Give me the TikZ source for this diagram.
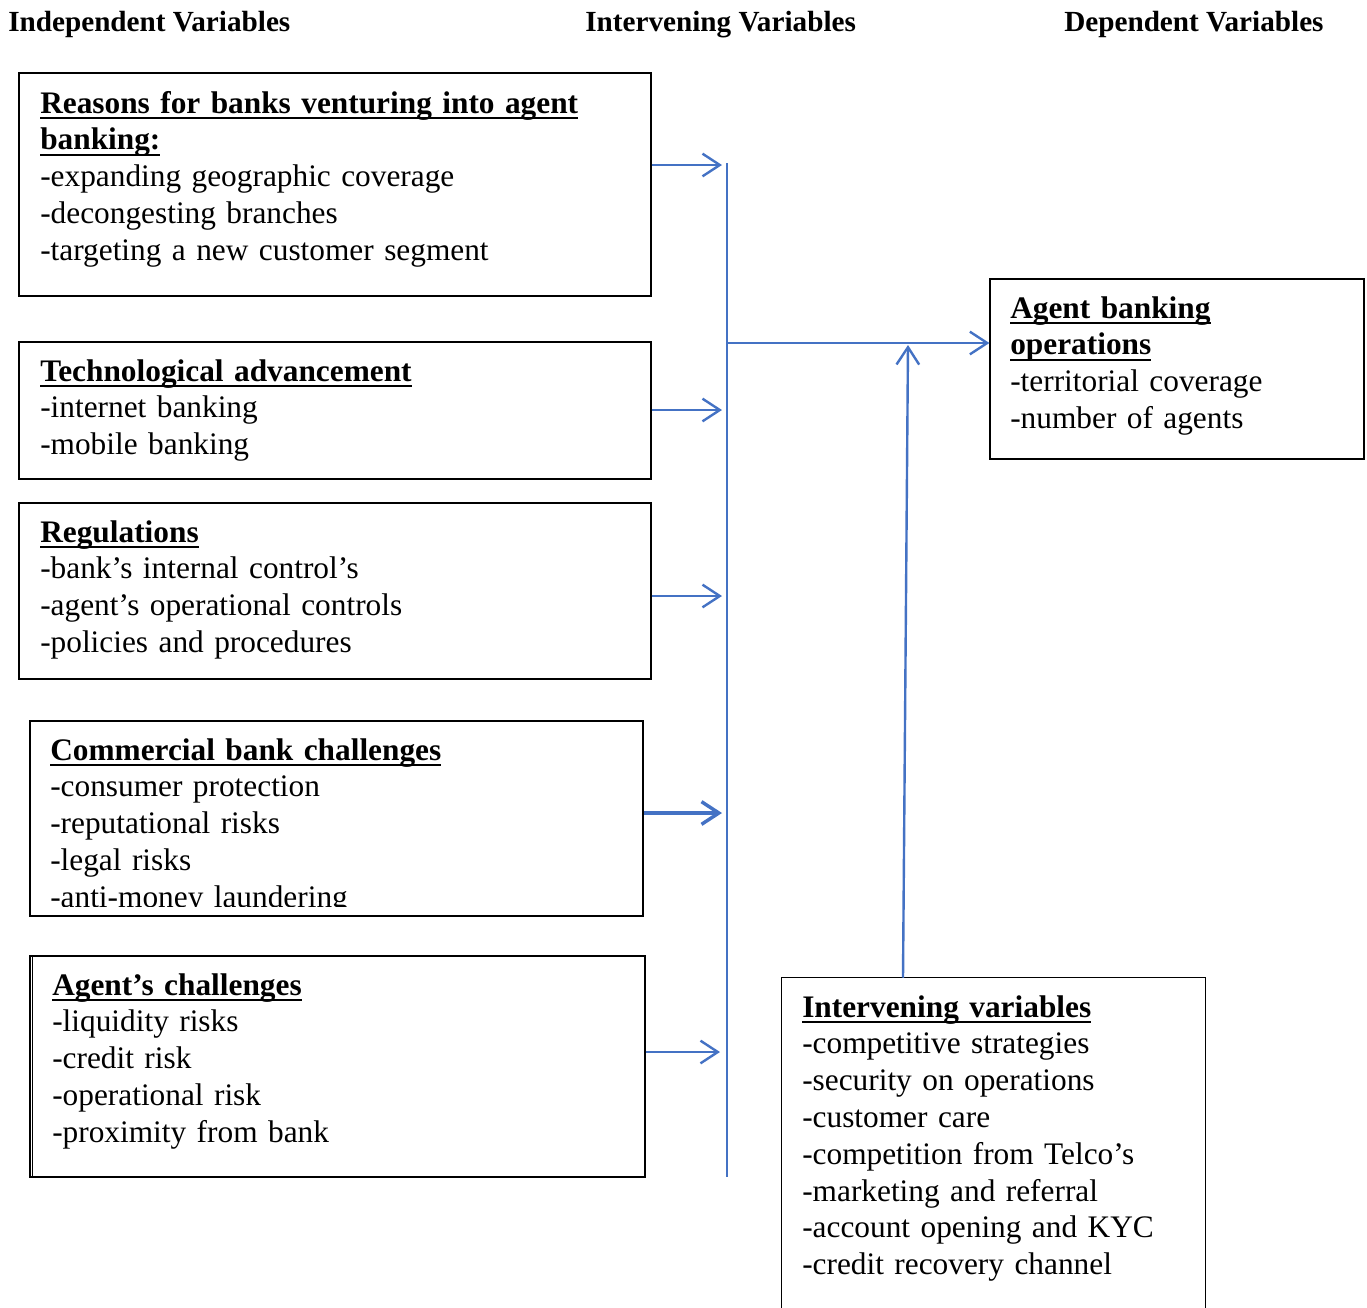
\documentclass[tikz,border=0pt]{standalone}
\usepackage{fontspec}
\setmainfont{Liberation Serif}
\usetikzlibrary{arrows.meta,fit,calc}
\definecolor{lineblue}{RGB}{68,114,196}
\newcommand{\ttl}[1]{\leavevmode\vtop{\offinterlineskip\hbox{\raisebox{0pt}[\height][0pt]{\textbf{#1}}}\kern3.2pt\hrule height 1.4pt}}
\begin{document}
\begin{tikzpicture}[x=0.75pt,y=-0.75pt,
  box/.style={draw=black,line width=0.9pt,inner sep=0pt},
  openbox/.style={inner sep=0pt},
  body/.style={anchor=base west,inner sep=0pt,align=left,text width=560pt,
    font=\fontsize{23.5}{27.6}\selectfont},
  head/.style={anchor=base west,inner sep=0pt,font=\fontsize{21.9}{26}\selectfont\bfseries},
  arr/.style={draw=lineblue,line width=1.8pt,-{Straight Barb[length=13pt,width=17pt]}},
  bus/.style={draw=lineblue,line width=1.8pt}]
\useasboundingbox (0,0) rectangle (1367,1307);

% headers
\node[head] (h1) at (8,31) {Independent Variables};
\node[head] (h2) at (585,31) {Intervening Variables};
\node[head] (h3) at (1064,31) {Dependent Variables};

% boxes
\node[box,fit={(19,73) (651,296)}] (b1) {};
\node[box,fit={(19,342) (651,479)}] (b2) {};
\node[box,fit={(19,503) (651,679)}] (b3) {};
\node[box,fit={(30,721) (643,916)}] (b4) {};
\node[box,fit={(30,956) (645,1177)}] (b5) {};
\draw[line width=0.9pt] ($(b5.north west)+(3,0)$) -- ($(b5.south west)+(3,0)$);
\node[box,fit={(990,279) (1364,459)}] (b6) {};
\node[openbox,fit={(782,978) (1205,1312)}] (b7) {};
\draw[line width=0.9pt] (b7.south west) -- (b7.north west) -- (b7.north east) -- (b7.south east);

% texts
\node[body] (t1) at (40,113) {\ttl{Reasons for banks venturing into agent}\\
  \ttl{banking:}\\
  -expanding geographic coverage\\
  -decongesting branches\\
  -targeting a new customer segment};
\node[body] (t2) at (40,381) {\ttl{Technological advancement}\\
  -internet banking\\
  -mobile banking};
\node[body] (t3) at (40,542) {\ttl{Regulations}\\
  -bank’s internal control’s\\
  -agent’s operational controls\\
  -policies and procedures};
\begin{scope}
  \clip (30,721) rectangle (643,906);
  \node[body] (t4) at (50,760) {\ttl{Commercial bank challenges}\\
    -consumer protection\\
    -reputational risks\\
    -legal risks\\
    -anti-money laundering};
\end{scope}
\node[body] (t5) at (52,995) {\ttl{Agent’s challenges}\\
  -liquidity risks\\
  -credit risk\\
  -operational risk\\
  -proximity from bank};
\node[body] (t6) at (1010,318) {\ttl{Agent banking}\\
  \ttl{operations}\\
  -territorial coverage\\
  -number of agents};
\node[body] (t7) at (802,1017) {\ttl{Intervening variables}\\
  -competitive strategies\\
  -security on operations\\
  -customer care\\
  -competition from Telco’s\\
  -marketing and referral\\
  -account opening and KYC\\
  -credit recovery channel};

% connectors
\coordinate (bt) at (727,163);
\coordinate (bb) at (727,1177);
\draw[bus] (bt) -- (bb);
\coordinate (a1) at (722,165);
\coordinate (a2) at (722,410);
\coordinate (a3) at (722,596);
\coordinate (a4) at (722,813);
\coordinate (a5) at (720,1052);
\draw[arr] (b1.east |- a1) -- (a1);
\draw[arr] (b2.east |- a2) -- (a2);
\draw[arr] (b3.east |- a3) -- (a3);
\draw[arr,line width=2.6pt] (b4.east |- a4) -- (a4);
\draw[arr] (b5.east |- a5) -- (a5);
\coordinate (hj) at (727,343);
\draw[arr] (hj) -- (b6.west |- hj);
\coordinate (vs) at (903,978);
\coordinate (ve) at (908,345);
\draw[arr] (b7.north -| vs) -- (ve);
\end{tikzpicture}
\end{document}
